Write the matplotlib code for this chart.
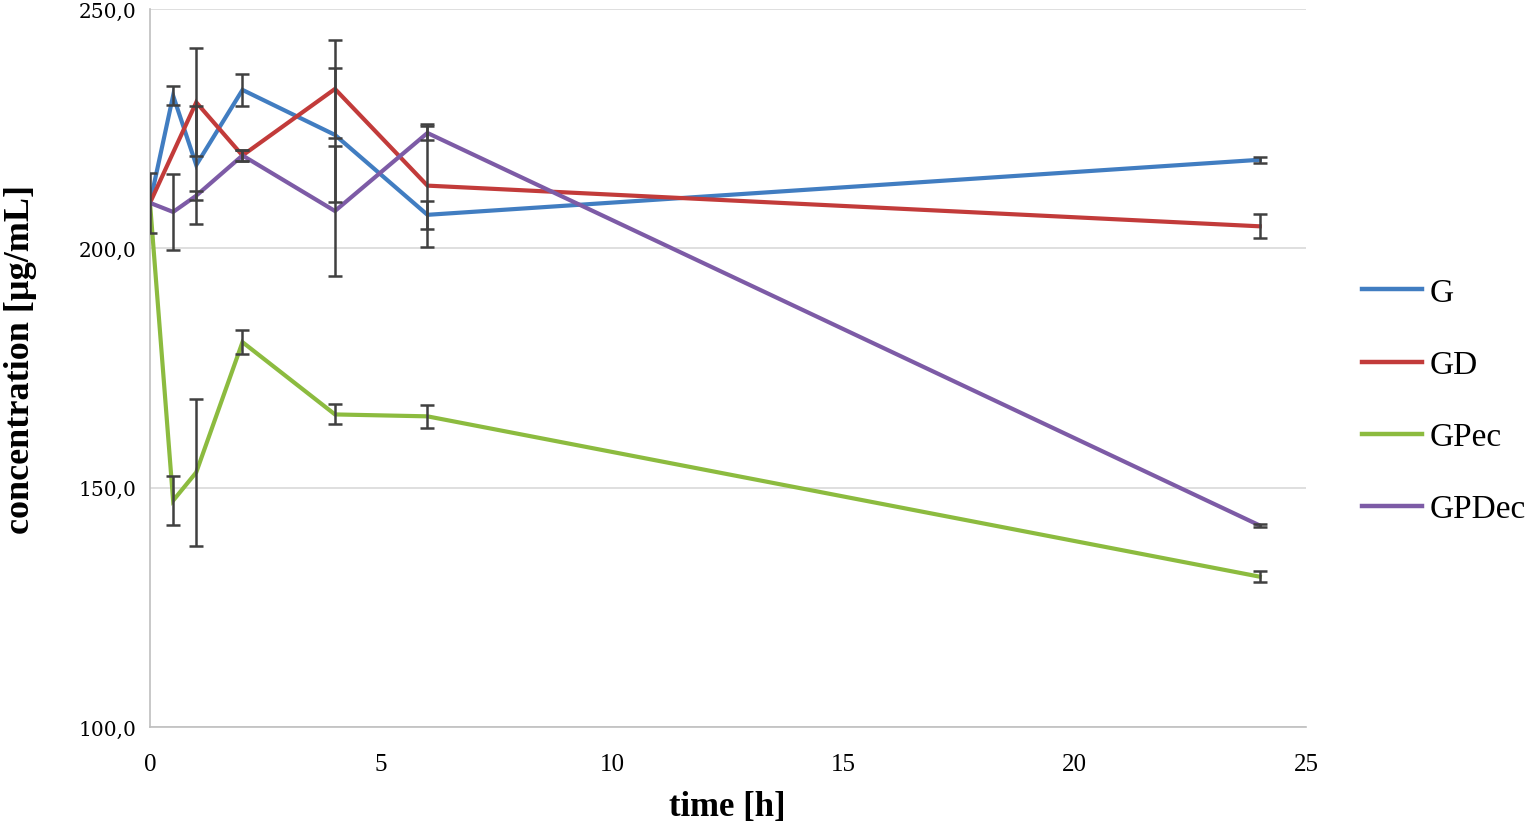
import matplotlib
matplotlib.use("Agg")
import matplotlib.pyplot as plt
from matplotlib.ticker import FuncFormatter

# ---- data ----
t_G = [0, 0.5, 1, 2, 4, 6, 24]
G = [209.5, 231.9, 217.4, 233.1, 223.7, 207.0, 218.5]
G_err = [6.3, 2.0, 12.3, 3.3, 14.0, 2.9, 0.6]

t_GD = [0, 1, 2, 4, 6, 24]
GD = [209.5, 230.5, 219.4, 233.3, 213.1, 204.6]
GD_err = [0, 11.3, 1.2, 10.2, 12.9, 2.5]

t_GPec = [0, 0.5, 1, 2, 4, 6, 24]
GPec = [209.5, 147.3, 153.2, 180.4, 165.3, 164.9, 131.4]
GPec_err = [0, 5.1, 15.3, 2.5, 2.1, 2.4, 1.2]

t_GPDec = [0, 0.5, 1, 2, 4, 6, 24]
GPDec = [209.5, 207.6, 211.0, 219.4, 207.8, 224.1, 142.1]
GPDec_err = [0, 8.0, 1.0, 1.2, 13.6, 1.5, 0.3]

labels = ["G", "GD", "GPec", "GPDec"]
colors = ["#417DC1", "#C23B3A", "#8CBB3F", "#7D5BA6"]

xticks = [0, 5, 10, 15, 20, 25]
yticks = [100, 150, 200, 250]

# ---- figure ----
fig = plt.figure(figsize=(15.35, 8.29), dpi=100)
ax = fig.add_axes([150 / 1535, 1 - 728 / 829, (1306 - 150) / 1535, (728 - 10) / 829])

series = [(t_G, G, G_err), (t_GD, GD, GD_err), (t_GPec, GPec, GPec_err), (t_GPDec, GPDec, GPDec_err)]
for (t, y, e), lab, c in zip(series, labels, colors):
    ax.plot(t, y, color=c, lw=3.0, label=lab, zorder=3, solid_joinstyle="miter")
    tt = [a for a, b in zip(t, e) if b > 0]
    yy = [a for a, b in zip(y, e) if b > 0]
    ee = [b for b in e if b > 0]
    ax.errorbar(tt, yy, yerr=ee, fmt="none", ecolor="#404040", elinewidth=1.8,
                capsize=5, capthick=1.8, zorder=4)

ax.set_xlim(0, 25)
ax.set_ylim(100, 250)
ax.set_xticks(xticks)
ax.set_yticks(yticks)
ax.yaxis.set_major_formatter(FuncFormatter(lambda v, p: f"{v:.1f}".replace(".", ",")))

ax.grid(axis="y", color="#D9D9D9", lw=1.2)
ax.set_axisbelow(True)
for s in ["top", "right"]:
    ax.spines[s].set_visible(False)
for s in ["left", "bottom"]:
    ax.spines[s].set_color("#BFBFBF")
    ax.spines[s].set_linewidth(1.2)

ax.tick_params(axis="x", length=0, pad=19, labelsize=18)
ax.tick_params(axis="y", length=0, pad=10, labelsize=14.5)
for lbl in ax.get_xticklabels():
    lbl.set_fontfamily("Liberation Serif")
for lbl in ax.get_yticklabels():
    lbl.set_fontfamily("DejaVu Serif")

fig.text(727 / 1535, 1 - 808 / 829, "time [h]", ha="center", va="center",
         fontsize=25, fontweight="bold", family="Liberation Serif")
fig.text(21 / 1535, 1 - 360 / 829, "concentration [µg/mL]", ha="center", va="center",
         rotation=90, fontsize=26, fontweight="bold", family="Liberation Serif")

leg = ax.legend(loc="center left", bbox_to_anchor=(1362 / 1535, 1 - 402 / 829),
                bbox_transform=fig.transFigure, frameon=False, borderpad=0,
                borderaxespad=0,
                prop={"family": "Liberation Serif", "size": 24},
                handlelength=1.8, handletextpad=0.24, labelspacing=1.25)
for h in leg.get_lines():
    h.set_linewidth(3.2)

fig.savefig("out.png", dpi=100)
